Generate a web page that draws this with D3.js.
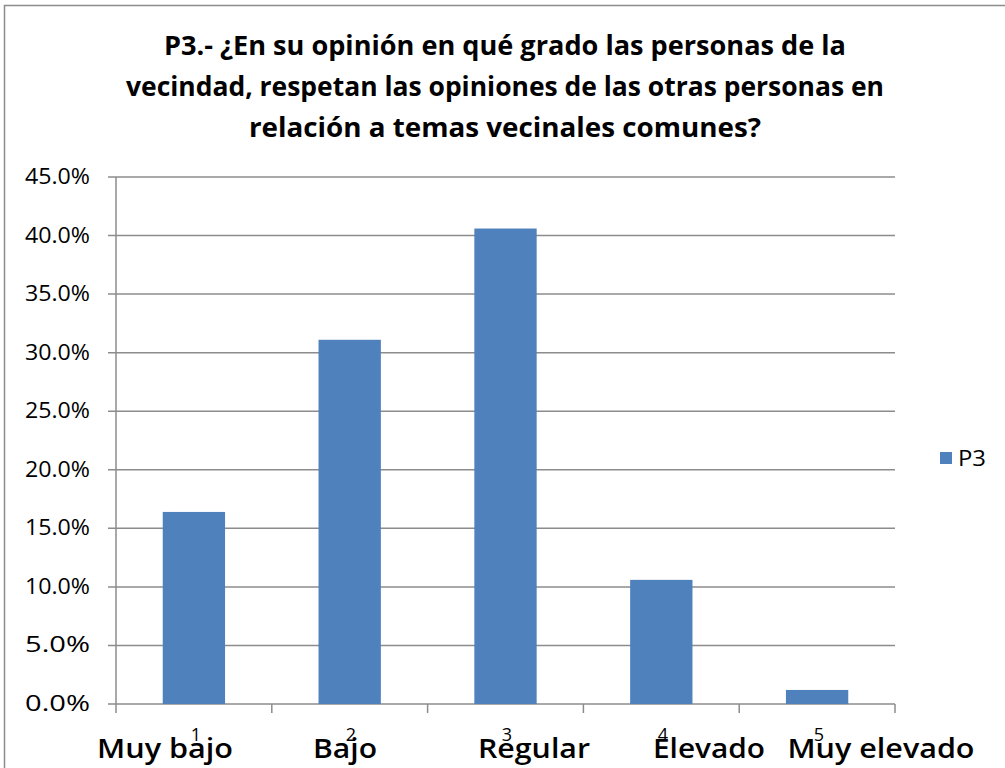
<!DOCTYPE html>
<html><head><meta charset="utf-8">
<script src="https://cdn.jsdelivr.net/npm/d3@7"></script>
<style>body{margin:0;background:#fff}svg{display:block}text{font-family:"Open Sans","Liberation Sans",sans-serif}</style>
</head><body><svg id="c" width="1005" height="768"></svg>
<script>
const categories = ["1","2","3","4","5"];
const categoryNames = ["Muy bajo","Bajo","Regular","Elevado","Muy elevado"];
const values = [0.164, 0.311, 0.406, 0.106, 0.012];
const yTicks = [0,0.05,0.10,0.15,0.20,0.25,0.30,0.35,0.40,0.45];
const titleLines = ["P3.- ¿En su opinión en qué grado las personas de la","vecindad, respetan las opiniones de las otras personas en","relación a temas vecinales comunes?"];
const seriesName = "P3";

const svg = d3.select("#c");
svg.append("rect").attr("x",4.5).attr("y",5.5).attr("width",1100).attr("height",900).attr("fill","none").attr("stroke","#8c8c8c").attr("stroke-width",1.5);

const L=116,R=895,T=177,B=704;
const x = d3.scaleBand().domain(categories).range([L,R]).paddingInner(0.6).paddingOuter(0.3);
const y = d3.scaleLinear().domain([0,0.45]).range([B,T]);

const g = svg.append("g");
g.selectAll(".grid").data(yTicks).join("line").attr("x1",L-8).attr("x2",R).attr("y1",d=>y(d)).attr("y2",d=>y(d)).attr("stroke","#8c8c8c").attr("stroke-width",1.5);
g.append("line").attr("x1",L).attr("x2",L).attr("y1",T).attr("y2",B).attr("stroke","#8c8c8c").attr("stroke-width",1.5);
const bounds = d3.range(categories.length+1).map(i=>L+(R-L)*i/categories.length);
g.selectAll(".xt").data(bounds).join("line").attr("x1",d=>d).attr("x2",d=>d).attr("y1",B).attr("y2",B+9).attr("stroke","#8c8c8c").attr("stroke-width",1.5);

g.selectAll(".ylab").data(yTicks).join("text").attr("x",90).attr("y",d=>y(d)+7).attr("text-anchor","end").attr("font-size",21).attr("textLength",65).attr("lengthAdjust","spacingAndGlyphs").attr("fill","#000").text(d=>(d*100).toFixed(1)+"%");

g.selectAll(".bar").data(values).join("rect").attr("x",(d,i)=>x(categories[i])).attr("width",x.bandwidth()).attr("y",d=>y(d)).attr("height",d=>B-y(d)).attr("fill","#4f81bd");

const nameCenters=[165,345,534,709,881];
const nameWidths=[136,64,112,112,187];
const numX=[196,351,507,663,819];
g.selectAll(".num").data(categories).join("text").attr("x",(d,i)=>numX[i]).attr("y",741).attr("text-anchor","middle").attr("font-size",18).text(d=>d);
g.selectAll(".nm").data(categoryNames).join("text").attr("x",(d,i)=>nameCenters[i]).attr("y",758).attr("text-anchor","middle").attr("font-size",27).attr("font-weight",600).attr("textLength",(d,i)=>nameWidths[i]).attr("lengthAdjust","spacingAndGlyphs").text(d=>d);

const tw=[682,758,512];
svg.selectAll(".title").data(titleLines).join("text").attr("x",505).attr("y",(d,i)=>55+i*41).attr("text-anchor","middle").attr("font-size",26).attr("font-weight","bold").attr("textLength",(d,i)=>tw[i]).attr("lengthAdjust","spacingAndGlyphs").text(d=>d);

svg.append("rect").attr("x",940).attr("y",452).attr("width",12).attr("height",12).attr("fill","#4f81bd");
svg.append("text").attr("x",958).attr("y",466).attr("font-size",21).attr("textLength",28).attr("lengthAdjust","spacingAndGlyphs").text(seriesName);
</script></body></html>
